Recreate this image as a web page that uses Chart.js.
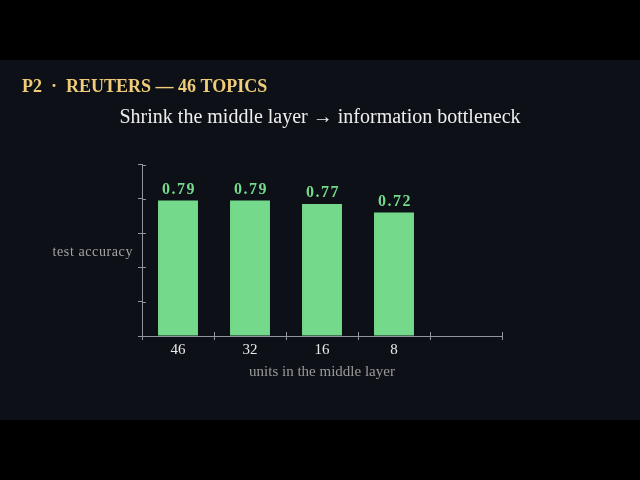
<!DOCTYPE html>
<html>
<head>
<meta charset="utf-8">
<script src="https://cdn.jsdelivr.net/npm/chart.js@4/dist/chart.umd.min.js"></script>
<style>
  html, body { margin: 0; padding: 0; background: #000; }
  #wrap { width: 640px; height: 480px; }
</style>
</head>
<body>
<div id="wrap"><canvas id="chart1" width="640" height="480"></canvas></div>
<script>
'use strict'

const UNITS = ['46', '32', '16', '8', '']
const ACCURACY = [0.79, 0.79, 0.77, 0.72, null]
const Y_TICKS = [0, 0.2, 0.4, 0.6, 0.8, 1.0]

const SERIF = '"Liberation Serif", "DejaVu Serif", serif'
const PANEL = '#0d1117'
const GREEN = '#74d98b'
const AXIS = '#8f959c'

// dark panel between the letterbox bars
const panelBg = {
	id: 'panelBg',
	beforeDraw(chart) {
		const c = chart.ctx
		c.save()
		c.fillStyle = PANEL
		c.fillRect(0, 60, chart.width, 360)
		c.restore()
	}
}

// value on top of each bar, horizontal y title, inner half of tick marks
const extras = {
	id: 'extras',
	afterDraw(chart) {
		const c = chart.ctx
		const area = chart.chartArea
		const xs = chart.scales.x
		const ys = chart.scales.y
		c.save()

		c.fillStyle = GREEN
		c.font = 'bold 16px ' + SERIF
		c.letterSpacing = '1.5px'
		c.textAlign = 'center'
		c.textBaseline = 'middle'
		chart.getDatasetMeta(0).data.forEach((bar, i) => {
			const v = ACCURACY[i]
			if (v == null) return
			c.fillText(v.toFixed(2), bar.x + 1, bar.y - 11)
		})

		c.fillStyle = '#a3a3a3'
		c.font = '14px ' + SERIF
		c.letterSpacing = '0.6px'
		c.textAlign = 'right'
		c.fillText('test accuracy', area.left - 9, (area.top + area.bottom) / 2 + 2)
		c.letterSpacing = '0px'

		c.strokeStyle = AXIS
		c.lineWidth = 1
		c.beginPath()
		ys.ticks.forEach((t, i) => {
			const y = Math.round(ys.getPixelForTick(i)) + 0.5
			c.moveTo(area.left, y)
			c.lineTo(area.left + 4, y)
		})
		const n = UNITS.length
		for (let i = 1; i <= n; i++) {
			const x = Math.round(xs.left + i * (xs.width / n)) + 0.5
			c.moveTo(x, area.bottom)
			c.lineTo(x, area.bottom - 4)
		}
		c.stroke()
		c.restore()
	}
}

const ctx = document.getElementById('chart1').getContext('2d')
const chart = new Chart(ctx, {
	type: 'bar',
	data: {
		labels: UNITS,
		datasets: [{
			data: ACCURACY,
			backgroundColor: GREEN,
			categoryPercentage: 1,
			barPercentage: 0.555
		}]
	},
	options: {
		responsive: false,
		animation: false,
		layout: {
			padding: { top: 70, left: 22, right: 22, bottom: 97 }
		},
		plugins: {
			legend: { display: false },
			tooltip: { enabled: false },
			title: {
				display: true,
				text: 'P2  ·  REUTERS — 46 TOPICS',
				align: 'start',
				color: '#f0cc78',
				font: { family: SERIF, size: 18, weight: 'bold' },
				padding: { top: 7, bottom: 0 }
			},
			subtitle: {
				display: true,
				text: 'Shrink the middle layer → information bottleneck',
				color: '#eeeeee',
				font: { family: SERIF, size: 20 },
				padding: { top: 7, bottom: 35 }
			}
		},
		scales: {
			x: {
				grid: {
					display: true,
					offset: true,
					drawOnChartArea: false,
					drawTicks: true,
					tickLength: 4,
					color: AXIS
				},
				border: { display: true, color: AXIS, width: 1 },
				ticks: {
					color: '#e8e8e8',
					font: { family: SERIF, size: 15 },
					padding: 1
				},
				title: {
					display: true,
					text: 'units in the middle layer',
					color: '#9a9a9a',
					font: { family: SERIF, size: 15 },
					padding: { top: 3, bottom: 2 }
				}
			},
			y: {
				min: 0,
				max: 1,
				afterBuildTicks(scale) {
					scale.ticks = Y_TICKS.map(v => ({ value: v }))
				},
				afterFit(scale) {
					scale.width = 120
				},
				grid: {
					display: true,
					drawOnChartArea: false,
					drawTicks: true,
					tickLength: 4,
					color: AXIS
				},
				border: { display: true, color: AXIS, width: 1 },
				ticks: { display: false }
			},
			yRight: {
				position: 'right',
				display: true,
				afterFit(scale) {
					scale.width = 116
				},
				grid: { display: false },
				border: { display: false },
				ticks: { display: false }
			}
		}
	},
	plugins: [panelBg, extras]
})
</script>
</body>
</html>
